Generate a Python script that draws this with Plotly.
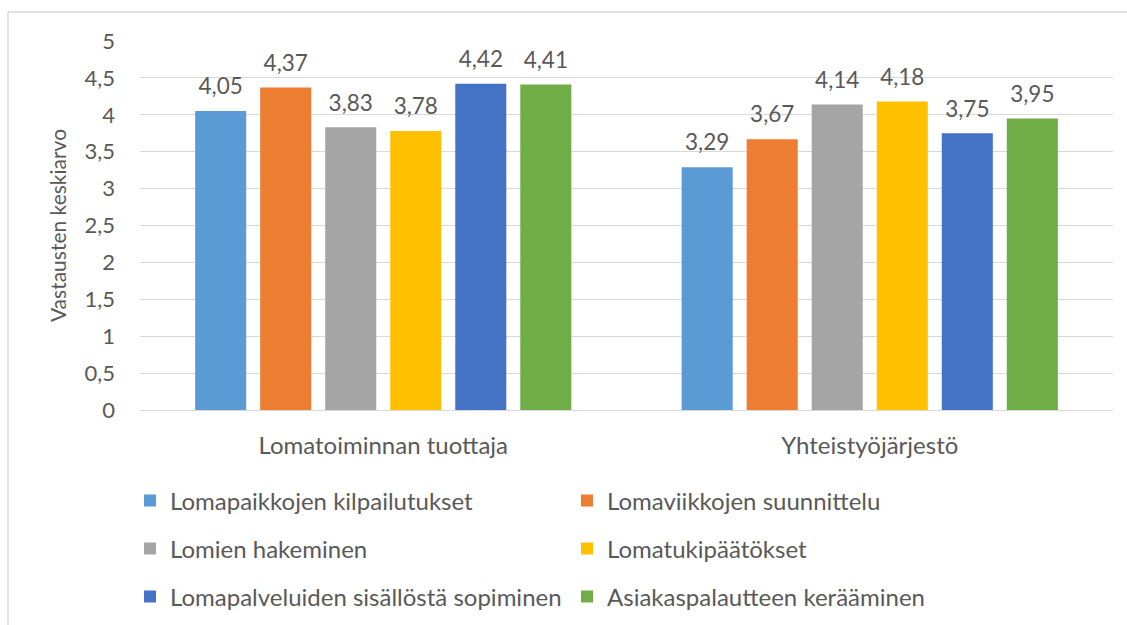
import plotly.graph_objects as go

categories = ["Lomatoiminnan tuottaja", "Yhteistyöjärjestö"]
series_names = [
    "Lomapaikkojen kilpailutukset",
    "Lomaviikkojen suunnittelu",
    "Lomien hakeminen",
    "Lomatukipäätökset",
    "Lomapalveluiden sisällöstä sopiminen",
    "Asiakaspalautteen kerääminen",
]
kilpailutukset = [4.05, 3.29]
suunnittelu = [4.37, 3.67]
hakeminen = [3.83, 4.14]
paatokset = [3.78, 4.18]
sopiminen = [4.42, 3.75]
palaute = [4.41, 3.95]
series_values = [kilpailutukset, suunnittelu, hakeminen, paatokset, sopiminen, palaute]
colors = ["#5B9BD5", "#ED7D31", "#A5A5A5", "#FFC000", "#4472C4", "#70AD47"]
legend_ids = ["legend", "legend", "legend2", "legend2", "legend3", "legend3"]

tick_vals = [0, 0.5, 1, 1.5, 2, 2.5, 3, 3.5, 4, 4.5, 5]
tick_text = [f"{v:g}".replace(".", ",") for v in tick_vals]

FONT = "Lato"
TXT = "#595959"

fig = go.Figure()
for name, vals, col, lg in zip(series_names, series_values, colors, legend_ids):
    fig.add_trace(go.Bar(
        name=name, x=categories, y=vals,
        marker=dict(color=col, line=dict(width=0)),
        text=[f"{v:.2f}".replace(".", ",") for v in vals],
        texttemplate="<span style='font-size:22.5px'>%{text}</span><br> ",
        textposition="outside", cliponaxis=False, constraintext="none",
        textfont=dict(family=FONT, size=9, color=TXT),
        legend=lg, hoverinfo="skip",
    ))

leg_common = dict(orientation="h", xref="container", yref="container",
                  xanchor="left", yanchor="middle", entrywidth=392,
                  entrywidthmode="pixels", bgcolor="rgba(0,0,0,0)", itemwidth=30,
                  font=dict(family=FONT, size=24, color=TXT), itemclick=False,
                  traceorder="normal")
lx = 130 / 1127
fig.update_layout(
    width=1127, height=625,
    margin=dict(l=140, r=14, t=41, b=215, autoexpand=False),
    paper_bgcolor="white", plot_bgcolor="white",
    barmode="group", bargap=0.198, bargroupgap=0.215,
    font=dict(family=FONT, color=TXT),
    xaxis=dict(showgrid=False, showline=True, linecolor="#d9d9d9", linewidth=1,
               ticks="", tickfont=dict(family=FONT, size=24, color=TXT),
               ticklabelstandoff=14),
    yaxis=dict(range=[0, 5], tickvals=tick_vals, ticktext=tick_text,
               showgrid=True, gridcolor="#d9d9d9", gridwidth=1, zeroline=False,
               showline=False, ticks="", ticklabelstandoff=24,
               tickfont=dict(family=FONT, size=22, color=TXT),
               title=dict(text="Vastausten keskiarvo", standoff=12,
                          font=dict(family=FONT, size=21, color=TXT))),
    legend=dict(leg_common, x=lx, y=1 - 501 / 625),
    legend2=dict(leg_common, x=lx, y=1 - 549 / 625),
    legend3=dict(leg_common, x=lx, y=1 - 597 / 625),
    showlegend=True,
)
# outer chart frame (left and top edges visible)
fx0 = (8 - 140) / 973
fy1 = (410 - 12) / 369
fig.add_shape(type="line", xref="paper", yref="paper", x0=fx0, x1=fx0, y0=fy1, y1=-1,
              line=dict(color="#d9d9d9", width=1.5))
fig.add_shape(type="line", xref="paper", yref="paper", x0=fx0, x1=1.2, y0=fy1, y1=fy1,
              line=dict(color="#d9d9d9", width=1.5))

fig.write_html("out.html", config={"displayModeBar": False},
               post_script="document.body.style.margin='0';document.body.style.overflow='hidden';")
